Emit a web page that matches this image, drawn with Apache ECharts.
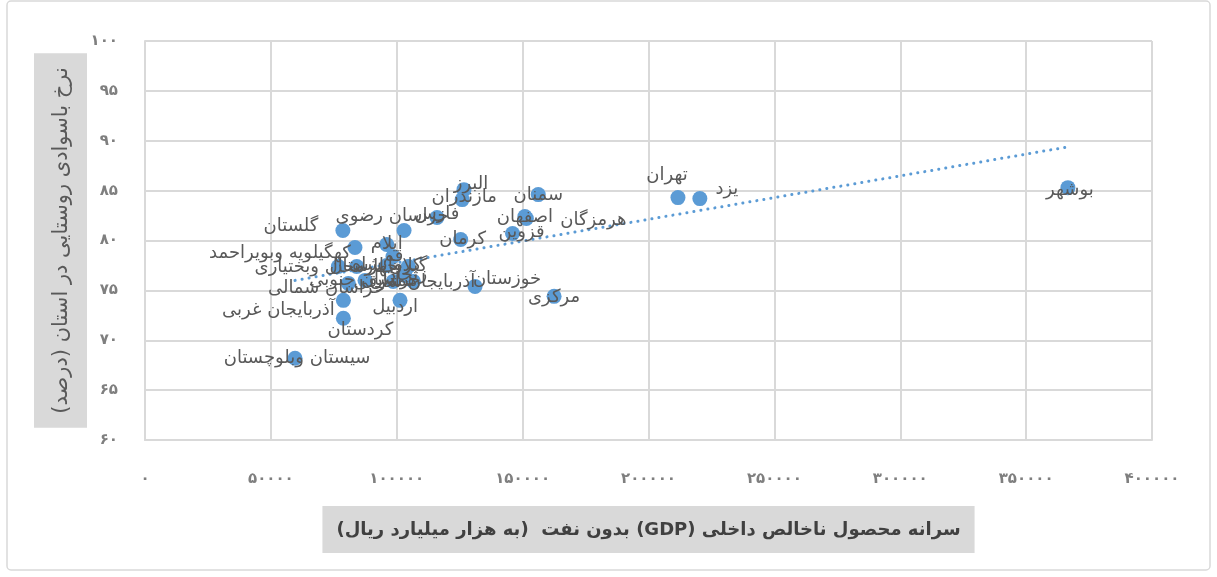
<!DOCTYPE html>
<html>
<head>
<meta charset="utf-8">
<script src="https://cdn.jsdelivr.net/npm/echarts@6/dist/echarts.min.js"></script>
<style>
  html, body { margin: 0; padding: 0; background: #fff; }
  #chart { width: 1217px; height: 577px; }
</style>
</head>
<body>
<div id="chart" dir="rtl"></div>
<script>
// provinces, non-oil GDP per capita, rural literacy rate (%)
var provinces = [
  "بوشهر", "تهران", "یزد", "سمنان", "البرز", "مازندران", "فارس", "خراسان رضوی",
  "گلستان", "هرمزگان", "اصفهان", "قزوین", "کرمان", "خوزستان", "مرکزی",
  "سیستان وبلوچستان", "کردستان", "آذربایجان غربی", "خراسان شمالی",
  "کهگیلویه وبویراحمد", "چهارمحال وبختیاری", "ایلام", "لرستان", "کرمانشاه",
  "گیلان", "همدان", "آذربایجان شرقی", "اردبیل", "زنجان", "قم", "خراسان جنوبی"
];
var gdp = [
  366600, 211700, 220400, 156200, 126700, 126000, 116000, 102900,
  78600, 151500, 150900, 146000, 125400, 131100, 162500,
  59600, 78800, 78800, 80800,
  83400, 76800, 96000, 84100, 96000,
  104600, 98600, 106600, 101300, 103300, 98500, 87400
];
var literacy = [
  85.3, 84.3, 84.2, 84.6, 85.1, 84.1, 82.3, 81.0,
  81.0, 82.2, 82.4, 80.7, 80.1, 75.4, 74.4,
  68.2, 72.2, 74.0, 75.7,
  79.3, 77.4, 79.6, 77.4, 77.5,
  77.4, 75.9, 75.9, 74.0, 76.5, 78.4, 76.0
];
var yTicks = [60, 65, 70, 75, 80, 85, 90, 95, 100];
var xTicks = [0, 50000, 100000, 150000, 200000, 250000, 300000, 350000, 400000];
// linear trend line end points
var trendX = [59600, 367000];
var trendY = [76.0, 89.4];

// label placement (pixels from the point centre)
var labelOffset = {
  "بوشهر": [2, 3], "تهران": [-11, -22], "یزد": [27, -9], "سمنان": [0, 1],
  "البرز": [7, -5], "مازندران": [2, -2], "فارس": [0, -3], "خراسان رضوی": [-12, -14],
  "گلستان": [-52, -4], "هرمزگان": [67, 2], "اصفهان": [0, 1], "قزوین": [9, -1],
  "کرمان": [2, 0], "خوزستان": [32, -7], "مرکزی": [0, 1], "سیستان وبلوچستان": [2, 0],
  "کردستان": [17, 12], "آذربایجان غربی": [-65, 10], "خراسان شمالی": [-22, 5],
  "کهگیلویه وبویراحمد": [-75, 6], "چهارمحال وبختیاری": [-12, 1],
  "اردبیل": [-5, 7], "آذربایجان شرقی": [1, 1]
};

function toFa(v) {
  return String(v).replace(/\d/g, function (d) {
    return String.fromCharCode(0x06F0 + Number(d));
  });
}

var points = provinces.map(function (name, i) {
  return { name: name, value: [gdp[i], literacy[i]] };
});

var chart = echarts.init(document.getElementById("chart"));
chart.setOption({
  backgroundColor: "#fff",
  animation: false,
  textStyle: { fontFamily: "DejaVu Sans" },
  graphic: [
    {
      type: "rect",
      shape: { x: 7, y: 1, width: 1203, height: 569, r: 4 },
      style: { fill: "none", stroke: "#d9d9d9", lineWidth: 1.5 },
      silent: true
    }
  ],
  grid: { left: 145, right: 65, top: 41, bottom: 137 },
  xAxis: {
    type: "value",
    min: xTicks[0],
    max: xTicks[xTicks.length - 1],
    interval: 50000,
    name: "سرانه محصول ناخالص داخلی (GDP) بدون نفت  (به هزار میلیارد ریال)",
    nameLocation: "middle",
    nameGap: 66,
    nameTextStyle: {
      fontFamily: "DejaVu Sans",
      fontSize: 18,
      fontWeight: "bold",
      color: "#404040",
      backgroundColor: "#d9d9d9",
      padding: [15, 14, 14, 14]
    },
    axisLine: { show: true, lineStyle: { color: "#d9d9d9", width: 2 } },
    axisTick: { show: false },
    axisLabel: {
      margin: 32,
      fontSize: 15,
      fontWeight: "bold",
      color: "#7f7f7f",
      formatter: function (v) { return toFa(v); }
    },
    splitLine: { show: true, lineStyle: { color: "#d9d9d9", width: 2 } }
  },
  yAxis: {
    type: "value",
    min: yTicks[0],
    max: yTicks[yTicks.length - 1],
    interval: 5,
    name: "نرخ باسوادی روستایی در استان (درصد)",
    nameLocation: "middle",
    nameRotate: 90,
    nameGap: 58,
    nameMoveOverlap: false,
    nameTextStyle: {
      fontFamily: "DejaVu Sans",
      fontSize: 21,
      color: "#595959",
      backgroundColor: "#d9d9d9",
      padding: [17, 14, 15, 14]
    },
    axisLine: { show: true, lineStyle: { color: "#d9d9d9", width: 2 } },
    axisTick: { show: false },
    axisLabel: {
      margin: 27,
      fontSize: 15,
      fontWeight: "bold",
      color: "#7f7f7f",
      formatter: function (v) { return toFa(v); }
    },
    splitLine: { show: true, lineStyle: { color: "#d9d9d9", width: 2 } }
  },
  series: [
    {
      type: "line",
      data: trendX.map(function (x, i) { return [x, trendY[i]]; }),
      showSymbol: false,
      symbol: "none",
      lineStyle: { color: "#5b9bd5", width: 3, type: [0.1, 7], cap: "round" },
      z: 1
    },
    {
      type: "scatter",
      data: points,
      symbolSize: 15,
      itemStyle: { color: "#5b9bd5", opacity: 1 },
      label: {
        show: true,
        position: "inside",
        formatter: "{b}",
        fontFamily: "DejaVu Sans",
        fontSize: 18,
        color: "#595959"
      },
      labelLayout: function (params) {
        var off = labelOffset[provinces[params.dataIndex]] || [0, 0];
        return { dx: off[0], dy: off[1], hideOverlap: false };
      },
      z: 2
    }
  ]
});
</script>
</body>
</html>
